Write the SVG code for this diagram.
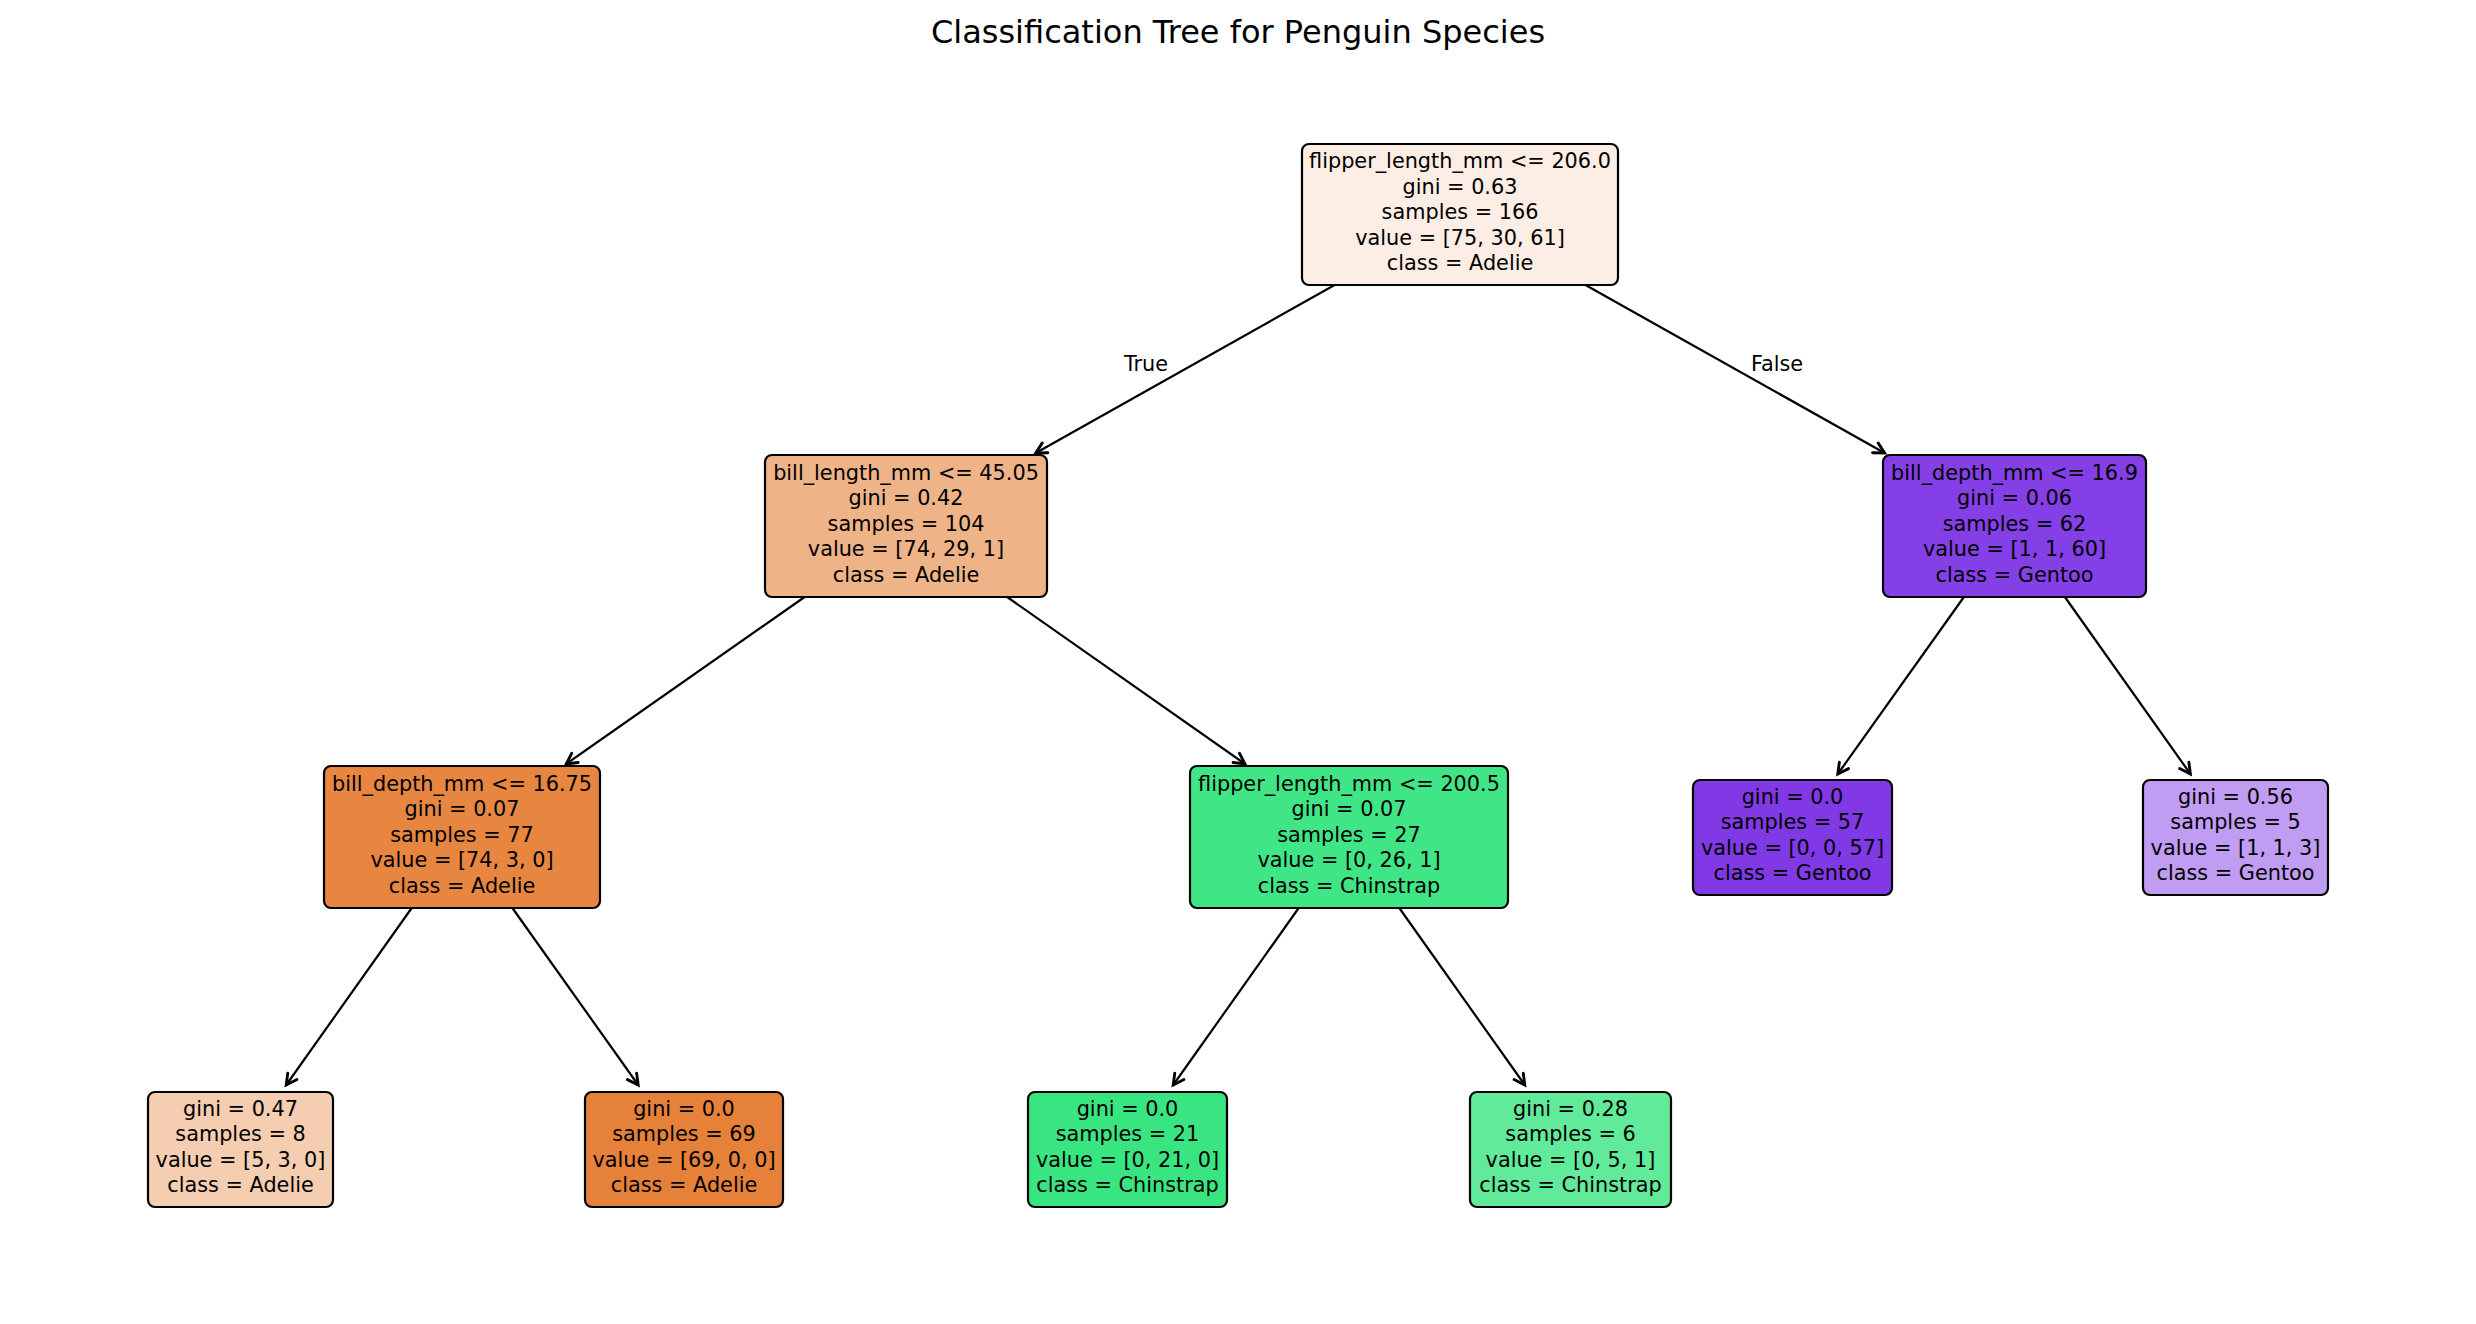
<svg xmlns="http://www.w3.org/2000/svg" width="2476" height="1324" viewBox="0 0 2476 1324">
<style>
.box{stroke:#000;stroke-width:2.2}
.t{font-family:"DejaVu Sans",sans-serif;font-size:20.8px;fill:#000;text-anchor:middle}
.title{font-family:"DejaVu Sans",sans-serif;font-size:32px;fill:#000;text-anchor:middle}
.e{stroke:#000;stroke-width:2.2;fill:none;marker-end:url(#ah)}
</style>
<defs>
<marker id="ah" markerUnits="userSpaceOnUse" markerWidth="20" markerHeight="20" viewBox="-12 -8 16 16" refX="0" refY="0" orient="auto">
<path d="M -8.5 -4.5 L 0 0 L -8.5 4.5" fill="none" stroke="#000" stroke-width="2.3" stroke-linecap="round"/>
</marker>
</defs>
<rect width="2476" height="1324" fill="#fff"/>
<text class="title" x="1238" y="43">Classification Tree for Penguin Species</text>
<g id="connectors">
<line class="e" x1="1334.6" y1="285" x2="1035.8" y2="453"/>
<line class="e" x1="1585.5" y1="285" x2="1884.6" y2="453"/>
<line class="e" x1="804.6" y1="597" x2="566.2" y2="764"/>
<line class="e" x1="1007.1" y1="597" x2="1245" y2="764"/>
<line class="e" x1="1963.9" y1="597" x2="1837.8" y2="774"/>
<line class="e" x1="2064.9" y1="597" x2="2190.4" y2="774"/>
<line class="e" x1="411.7" y1="908" x2="286.2" y2="1085"/>
<line class="e" x1="512.4" y1="908" x2="638.2" y2="1085"/>
<line class="e" x1="1298.7" y1="908" x2="1173.2" y2="1085"/>
<line class="e" x1="1399.3" y1="908" x2="1524.8" y2="1085"/>
<text class="t" x="1146" y="371">True</text>
<text class="t" x="1777" y="371">False</text>
</g>
<g id="n0">
<rect class="box" x="1302" y="144" width="316" height="141" rx="7" fill="#fceee4"/>
<text class="t" x="1460" y="168">flipper_length_mm &lt;= 206.0</text>
<text class="t" x="1460" y="193.5">gini = 0.63</text>
<text class="t" x="1460" y="219">samples = 166</text>
<text class="t" x="1460" y="244.5">value = [75, 30, 61]</text>
<text class="t" x="1460" y="270">class = Adelie</text>
</g>
<g id="n1">
<rect class="box" x="765" y="455" width="282" height="142" rx="7" fill="#efb388"/>
<text class="t" x="906" y="479.5">bill_length_mm &lt;= 45.05</text>
<text class="t" x="906" y="505">gini = 0.42</text>
<text class="t" x="906" y="530.5">samples = 104</text>
<text class="t" x="906" y="556">value = [74, 29, 1]</text>
<text class="t" x="906" y="581.5">class = Adelie</text>
</g>
<g id="n2">
<rect class="box" x="1883" y="455" width="263" height="142" rx="7" fill="#853fe6"/>
<text class="t" x="2014.5" y="479.5">bill_depth_mm &lt;= 16.9</text>
<text class="t" x="2014.5" y="505">gini = 0.06</text>
<text class="t" x="2014.5" y="530.5">samples = 62</text>
<text class="t" x="2014.5" y="556">value = [1, 1, 60]</text>
<text class="t" x="2014.5" y="581.5">class = Gentoo</text>
</g>
<g id="n3">
<rect class="box" x="324" y="766" width="276" height="142" rx="7" fill="#e68641"/>
<text class="t" x="462" y="790.5">bill_depth_mm &lt;= 16.75</text>
<text class="t" x="462" y="816">gini = 0.07</text>
<text class="t" x="462" y="841.5">samples = 77</text>
<text class="t" x="462" y="867">value = [74, 3, 0]</text>
<text class="t" x="462" y="892.5">class = Adelie</text>
</g>
<g id="n4">
<rect class="box" x="1190" y="766" width="318" height="142" rx="7" fill="#40e686"/>
<text class="t" x="1349" y="790.5">flipper_length_mm &lt;= 200.5</text>
<text class="t" x="1349" y="816">gini = 0.07</text>
<text class="t" x="1349" y="841.5">samples = 27</text>
<text class="t" x="1349" y="867">value = [0, 26, 1]</text>
<text class="t" x="1349" y="892.5">class = Chinstrap</text>
</g>
<g id="n5">
<rect class="box" x="1693" y="780" width="199" height="115" rx="7" fill="#8139e5"/>
<text class="t" x="1792.5" y="803.5">gini = 0.0</text>
<text class="t" x="1792.5" y="829">samples = 57</text>
<text class="t" x="1792.5" y="854.5">value = [0, 0, 57]</text>
<text class="t" x="1792.5" y="880">class = Gentoo</text>
</g>
<g id="n6">
<rect class="box" x="2143" y="780" width="185" height="115" rx="7" fill="#c09cf2"/>
<text class="t" x="2235.5" y="803.5">gini = 0.56</text>
<text class="t" x="2235.5" y="829">samples = 5</text>
<text class="t" x="2235.5" y="854.5">value = [1, 1, 3]</text>
<text class="t" x="2235.5" y="880">class = Gentoo</text>
</g>
<g id="n7">
<rect class="box" x="148" y="1092" width="185" height="115" rx="7" fill="#f5cdb0"/>
<text class="t" x="240.5" y="1115.5">gini = 0.47</text>
<text class="t" x="240.5" y="1141">samples = 8</text>
<text class="t" x="240.5" y="1166.5">value = [5, 3, 0]</text>
<text class="t" x="240.5" y="1192">class = Adelie</text>
</g>
<g id="n8">
<rect class="box" x="585" y="1092" width="198" height="115" rx="7" fill="#e58139"/>
<text class="t" x="684" y="1115.5">gini = 0.0</text>
<text class="t" x="684" y="1141">samples = 69</text>
<text class="t" x="684" y="1166.5">value = [69, 0, 0]</text>
<text class="t" x="684" y="1192">class = Adelie</text>
</g>
<g id="n9">
<rect class="box" x="1028" y="1092" width="199" height="115" rx="7" fill="#39e581"/>
<text class="t" x="1127.5" y="1115.5">gini = 0.0</text>
<text class="t" x="1127.5" y="1141">samples = 21</text>
<text class="t" x="1127.5" y="1166.5">value = [0, 21, 0]</text>
<text class="t" x="1127.5" y="1192">class = Chinstrap</text>
</g>
<g id="n10">
<rect class="box" x="1470" y="1092" width="201" height="115" rx="7" fill="#61ea9a"/>
<text class="t" x="1570.5" y="1115.5">gini = 0.28</text>
<text class="t" x="1570.5" y="1141">samples = 6</text>
<text class="t" x="1570.5" y="1166.5">value = [0, 5, 1]</text>
<text class="t" x="1570.5" y="1192">class = Chinstrap</text>
</g>
</svg>
